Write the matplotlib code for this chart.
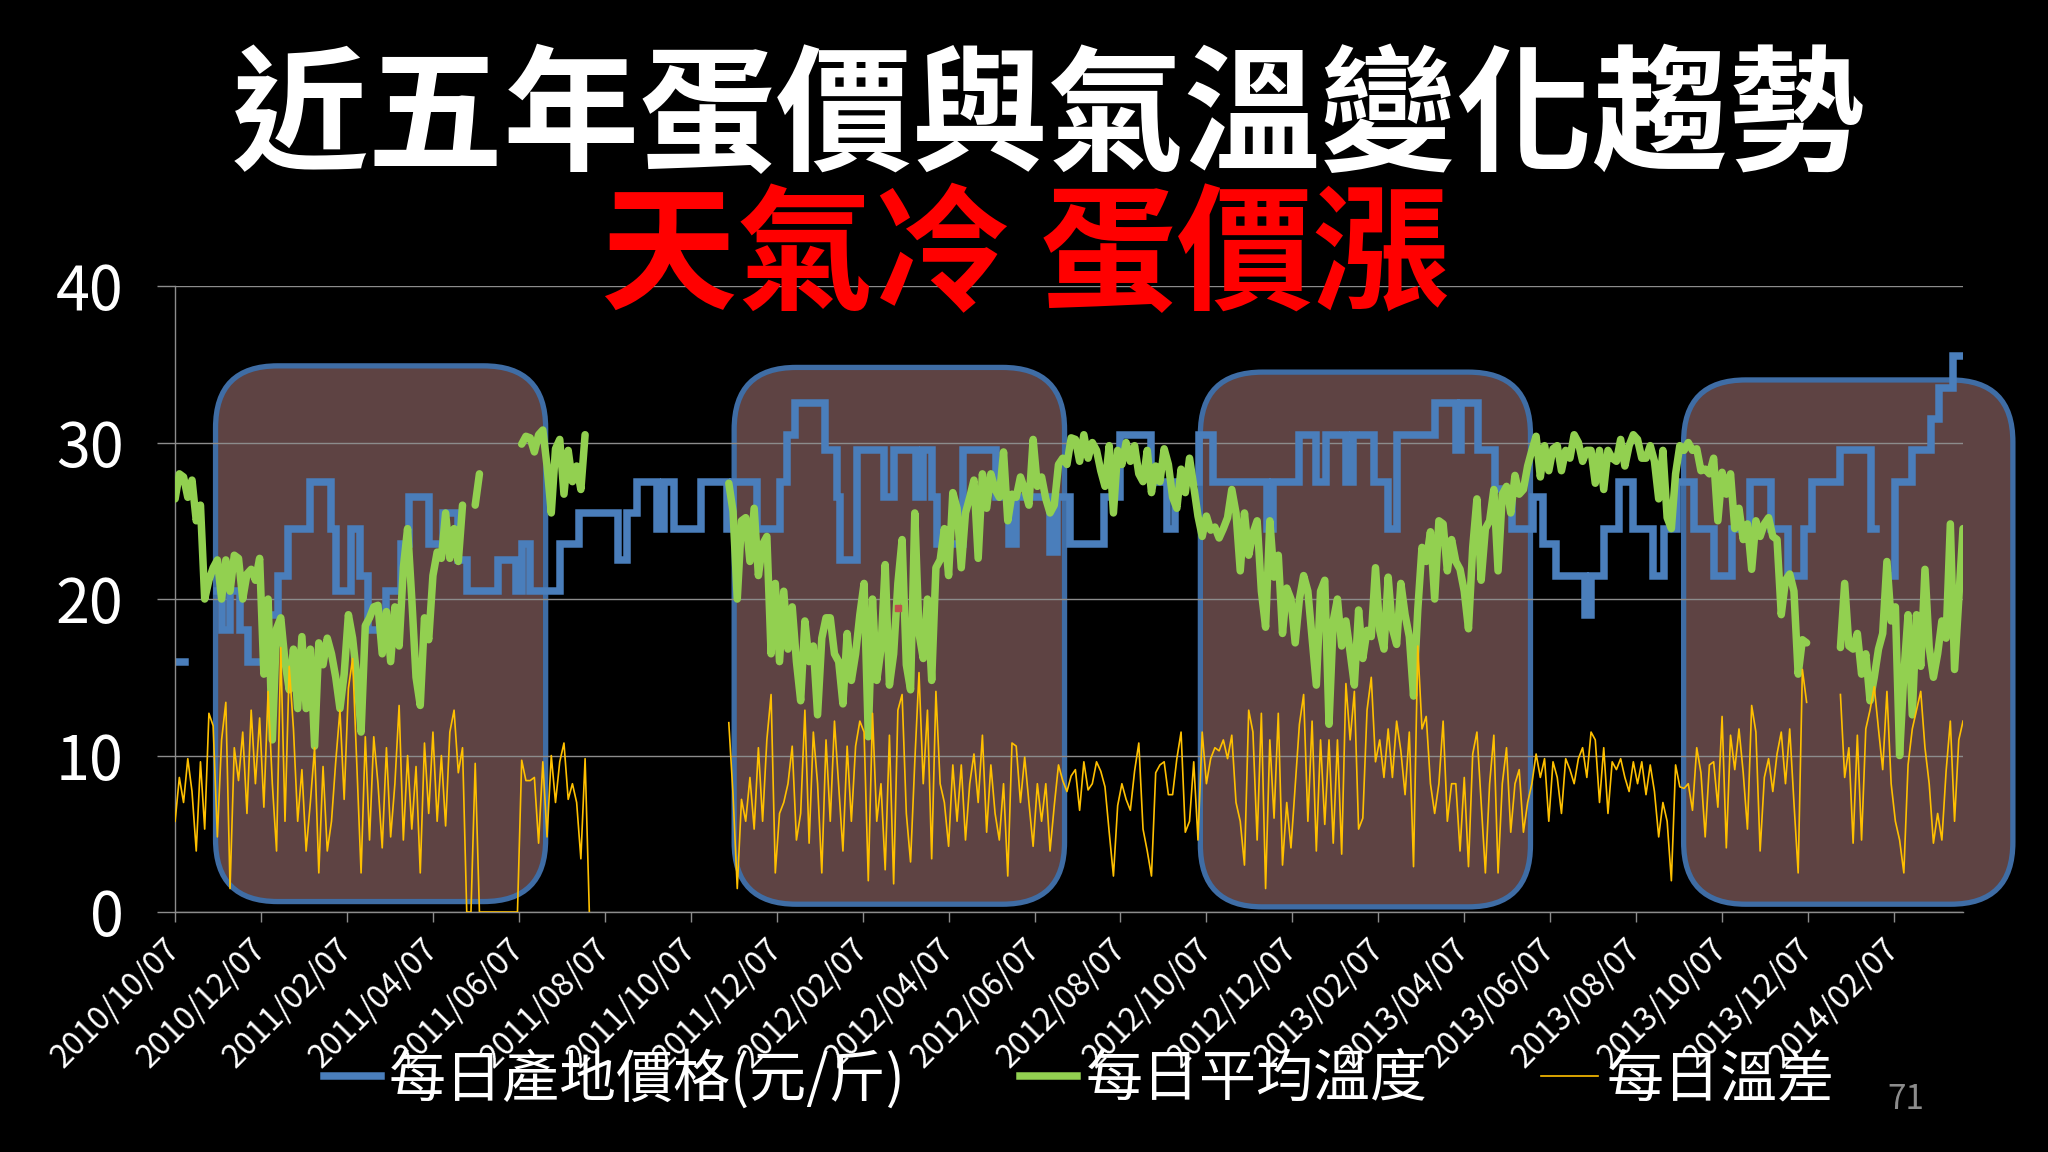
import numpy as np
import matplotlib
matplotlib.use('Agg')
import matplotlib.pyplot as plt
from matplotlib.patches import FancyBboxPatch
from matplotlib.lines import Line2D
from matplotlib.transforms import IdentityTransform

plt.rcParams['font.family'] = ['Noto Sans CJK TC', 'DejaVu Sans']

# ---------------- text ----------------
title = '近五年蛋價與氣溫變化趨勢'
subtitle = '天氣冷 蛋價漲'
series_names = ['每日產地價格(元/斤)', '每日平均溫度', '每日溫差']
page_no = '71'
tick_labels = ['2010/10/07', '2010/12/07', '2011/02/07', '2011/04/07', '2011/06/07',
               '2011/08/07', '2011/10/07', '2011/12/07', '2012/02/07', '2012/04/07',
               '2012/06/07', '2012/08/07', '2012/10/07', '2012/12/07', '2013/02/07',
               '2013/04/07', '2013/06/07', '2013/08/07', '2013/10/07', '2013/12/07',
               '2014/02/07']
tick_every = 61          # category axis: one label every 61 daily points
n_days = 1270            # daily points, day 0 = 2010/10/07
sample_step = 3          # temperature series read every 3rd day

nan = np.nan

# ---------------- price (step series): day of change, new price ----------------
price_day = [0, 7, 30, 33, 39, 46, 52, 65, 73, 80, 96, 111, 114, 125, 131, 137, 150, 160,
             166, 180, 190, 201, 207, 229, 242, 246, 252, 273, 287, 314, 321, 328, 342,
             347, 354, 373, 392, 396, 413, 429, 434, 440, 461, 470, 472, 484, 503, 510,
             526, 531, 537, 541, 559, 583, 592, 597, 621, 626, 635, 659, 671, 693, 704,
             710, 727, 737, 775, 779, 798, 810, 817, 831, 836, 851, 861, 867, 894, 909,
             913, 925, 937, 949, 964, 971, 980, 1001, 1005, 1014, 1025, 1035, 1049, 1057,
             1066, 1078, 1092, 1105, 1118, 1133, 1145, 1156, 1162, 1182, 1204, 1207,
             1219, 1221, 1233, 1246, 1252, 1262, 1269]
price_val = [16, nan, 20.5, 18, 20.5, 18, 16, 19, 21.5, 24.5, 27.5, 24.5, 20.5, 24.5, 21.5,
             18, 20.5, 23.5, 26.5, 23.5, 25.5, 22.5, 20.5, 22.5, 20.5, 23.5, 20.5, 23.5,
             25.5, 22.5, 25.5, 27.5, 24.5, 27.5, 24.5, 27.5, 24.5, 27.5, 24.5, 27.5, 30.5,
             32.5, 29.5, 26.5, 22.5, 29.5, 26.5, 29.5, 26.5, 29.5, 26.5, 23.5, 29.5, 26.5,
             23.5, 26.5, 23.0, 26.5, 23.5, 26.5, 30.5, 27.5, 24.5, 27.5, 30.5, 27.5, 24.5,
             27.5, 30.5, 27.5, 30.5, 27.5, 30.5, 27.5, 24.5, 30.5, 32.5, 29.5, 32.5, 29.5,
             27.0, 24.5, 26.5, 23.5, 21.5, 19.0, 21.5, 24.5, 27.5, 24.5, 21.5, 24.5, 27.5,
             24.5, 21.5, 24.5, 27.5, 24.5, 21.5, 24.5, 27.5, 29.5, 24.5, nan, 21.5, 27.5,
             29.5, 31.5, 33.5, 35.5, 35.5]

# ---------------- mean temperature: segments (first day, values every 3 days) ----------------
temp_seg1_start = 0
temp_seg1 = [26.4, 28.0, 27.8, 26.5, 27.6, 25.0, 26.0, 20.0, 21.2, 22.0,
             22.5, 20.0, 22.5, 20.5, 22.8, 22.6, 20.0, 21.6, 21.9, 21.2,
             22.6, 15.2, 20.0, 11.0, 18.1, 18.8, 16.0, 14.2, 16.8, 13.0,
             17.6, 13.0, 16.8, 10.6, 17.2, 15.8, 17.5, 16.5, 15.0, 13.0,
             15.2, 19.0, 17.5, 15.0, 11.5, 18.3, 18.8, 19.5, 19.6, 16.5,
             19.2, 16.0, 19.5, 17.0, 22.0, 24.5, 20.0, 15.0, 13.2, 18.8,
             17.4, 21.5, 23.0, 22.6, 25.5, 22.6, 24.5, 22.4, 26.0]
temp_seg2_start = 213
temp_seg2 = [26.0, 28.0]
temp_seg3_start = 246
temp_seg3 = [29.9, 30.4, 30.3, 29.4, 30.5, 30.8, 28.5, 25.5, 29.6, 30.2,
             26.7, 29.5, 27.5, 28.5, 27.0, 30.5]
temp_seg4_start = 393
temp_seg4 = [27.4, 25.6, 20.0, 25.0, 25.2, 22.4, 25.8, 21.5, 23.5, 24.0,
             16.5, 21.0, 16.0, 20.5, 16.8, 19.5, 16.0, 13.5, 18.6, 16.0,
             17.0, 12.6, 17.5, 18.8, 18.8, 16.5, 16.0, 13.3, 17.8, 14.8,
             16.5, 19.0, 21.0, 11.2, 20.0, 14.8, 16.8, 22.2, 14.5, 16.5,
             21.0, 23.8, 15.8, 14.2, 25.5, 17.8, 16.2, 20.0, 14.8, 22.0,
             22.5, 24.5, 21.5, 26.8, 25.8, 22.0, 25.5, 26.5, 27.6, 22.6,
             28.0, 25.8, 28.0, 27.0, 26.5, 29.4, 25.0, 26.7, 26.5, 27.8,
             27.0, 26.0, 30.2, 27.2, 27.8, 26.4, 25.5, 26.0, 28.6, 29.0,
             28.6, 30.3, 30.2, 28.8, 30.5, 29.0, 30.0, 29.5, 28.2, 27.2,
             29.8, 25.5, 29.5, 28.6, 30.0, 28.8, 29.8, 28.0, 27.5, 29.5,
             26.8, 28.5, 27.5, 29.6, 28.6, 26.5, 25.8, 28.3, 26.8, 29.0,
             27.2, 25.3, 24.0, 25.3, 24.4, 24.6, 23.9, 24.5, 25.2, 27.0,
             25.5, 21.8, 25.5, 22.8, 24.2, 25.0, 20.5, 18.2, 25.0, 21.4,
             22.8, 17.8, 20.7, 20.0, 17.2, 20.0, 21.5, 20.5, 17.5, 14.5,
             20.5, 21.2, 12.0, 18.6, 20.0, 17.0, 18.6, 16.6, 14.5, 19.3,
             16.2, 18.0, 17.6, 22.0, 18.0, 16.8, 21.4, 18.1, 17.1, 21.0,
             19.0, 17.6, 13.8, 19.3, 23.3, 22.4, 24.3, 20.0, 25.0, 24.8,
             21.8, 23.8, 22.4, 21.9, 20.5, 18.1, 23.3, 26.4, 21.2, 24.5,
             25.0, 27.0, 21.8, 26.7, 27.2, 25.5, 27.9, 26.7, 27.0, 28.5,
             29.5, 30.4, 27.8, 29.8, 28.2, 29.6, 29.8, 28.2, 29.5, 29.0,
             30.5, 30.0, 28.8, 29.5, 29.5, 27.4, 29.5, 27.0, 29.5, 29.0,
             28.8, 30.2, 28.5, 29.8, 30.5, 30.2, 29.0, 29.0, 29.8, 28.8,
             26.4, 29.5, 25.2, 24.5, 28.0, 29.8, 29.5, 30.0, 29.5, 29.6,
             28.2, 28.3, 28.0, 29.0, 25.0, 28.1, 26.7, 28.0, 24.5, 25.8,
             23.8, 24.8, 21.9, 25.0, 24.0, 24.8, 25.2, 24.0, 23.8, 19.0,
             21.2, 21.6, 20.5, 15.2, 17.4, 17.2]
temp_seg5_start = 1182
temp_seg5 = [16.9, 21.0, 17.0, 16.8, 17.8, 15.2, 16.5, 13.5, 15.0, 16.8,
             17.8, 22.4, 18.6, 19.5, 10.0, 15.2, 19.0, 12.6, 19.0, 15.7,
             21.9, 16.9, 15.0, 16.5, 18.6, 17.5, 24.8, 15.5, 20.0, 24.5]

# ---------------- daily temperature range: segments ----------------
diff_seg1_start = 0
diff_seg1 = [5.8, 8.6, 7.0, 9.8, 7.7, 3.9, 9.6, 5.3, 12.7, 11.9,
             4.8, 11.0, 13.4, 1.5, 10.5, 8.4, 11.5, 6.3, 12.9, 8.2,
             12.4, 6.7, 14.1, 8.2, 3.9, 16.9, 5.8, 15.7, 11.7, 5.8,
             9.1, 3.9, 7.0, 10.5, 2.5, 9.3, 3.9, 5.8, 9.6, 12.9,
             7.2, 14.3, 16.2, 9.3, 2.5, 11.2, 4.6, 11.2, 8.2, 4.1,
             10.5, 4.8, 8.2, 13.2, 4.6, 10.0, 5.3, 9.3, 2.5, 10.8,
             6.3, 11.5, 5.8, 10.0, 5.5, 11.5, 12.9, 8.9, 10.5]
diff_seg2_start = 207
diff_seg2 = [0, 0, 9.5, 0, 0, 0, 0, 0, 0, 0,
             0, 0, 0, 9.7, 8.4, 8.4, 8.6, 4.4, 9.6, 4.8,
             10.0, 7.0, 9.6, 10.8, 7.2, 8.2, 7.0, 3.4, 9.8, 0]
diff_seg3_start = 393
diff_seg3 = [12.1, 7.5, 1.5, 7.2, 5.8, 8.6, 5.3, 10.5, 5.8, 11.0,
             13.9, 2.5, 6.3, 7.0, 8.2, 10.6, 4.6, 6.3, 12.9, 4.4,
             11.5, 8.2, 2.5, 11.0, 5.8, 12.2, 8.0, 3.9, 10.6, 5.8,
             10.6, 12.2, 11.5, 2.0, 12.7, 5.8, 8.2, 2.7, 11.3, 1.8,
             12.9, 13.9, 6.3, 3.2, 9.6, 15.3, 8.2, 12.9, 3.4, 14.1,
             8.2, 7.0, 4.2, 9.4, 5.8, 9.4, 4.6, 8.2, 10.1, 7.0,
             11.3, 5.1, 9.4, 6.3, 4.6, 8.2, 2.3, 10.8, 10.6, 7.0,
             9.9, 7.0, 4.2, 8.2, 5.8, 8.2, 3.9, 6.8, 9.4, 8.4,
             7.7, 8.7, 9.1, 6.5, 9.6, 7.8, 8.2, 9.6, 9.0, 8.0,
             5.1, 2.3, 6.8, 8.2, 7.2, 6.5, 9.0, 10.8, 5.3, 3.9,
             2.3, 8.9, 9.4, 9.6, 7.5, 7.5, 9.8, 11.5, 5.1, 5.8,
             9.6, 4.6, 11.5, 8.2, 9.8, 10.5, 10.3, 11.0, 9.8, 11.3,
             7.0, 5.8, 3.0, 12.9, 11.5, 4.6, 12.7, 1.5, 11.0, 6.0,
             12.7, 3.0, 7.0, 4.1, 8.0, 12.0, 13.9, 5.8, 12.2, 3.9,
             11.0, 5.6, 11.0, 4.4, 11.0, 3.7, 14.6, 11.0, 14.1, 5.3,
             6.0, 12.9, 15.0, 9.6, 11.0, 8.6, 11.7, 8.6, 12.2, 10.3,
             7.5, 11.5, 2.9, 17.0, 11.7, 12.5, 8.2, 6.3, 8.2, 12.2,
             5.8, 8.2, 8.2, 3.9, 8.6, 2.9, 10.1, 11.5, 7.0, 2.5,
             8.2, 11.3, 2.5, 8.2, 10.5, 5.1, 8.2, 9.1, 5.1, 7.0,
             8.2, 10.1, 8.6, 9.8, 5.8, 9.6, 8.6, 6.3, 9.8, 9.1,
             8.2, 9.8, 10.5, 8.6, 11.5, 11.0, 7.0, 10.5, 6.3, 9.6,
             9.1, 9.8, 8.6, 7.7, 9.6, 8.2, 9.6, 7.5, 9.4, 7.7,
             4.8, 7.0, 5.8, 2.0, 9.4, 8.0, 7.9, 8.2, 6.5, 10.5,
             8.9, 4.8, 9.4, 9.6, 6.7, 12.5, 4.1, 11.3, 9.1, 11.7,
             8.9, 5.3, 13.2, 11.5, 3.9, 8.6, 9.8, 7.7, 10.1, 11.5,
             8.2, 11.7, 7.0, 2.5, 15.5, 13.4]
diff_seg4_start = 1182
diff_seg4 = [13.9, 8.6, 10.5, 4.4, 11.3, 4.6, 11.7, 12.9, 14.4, 11.7,
             9.1, 14.1, 8.2, 5.8, 4.6, 2.5, 9.4, 11.7, 12.9, 14.1,
             10.5, 8.2, 4.4, 6.3, 4.6, 9.0, 12.2, 5.8, 11.0, 12.2]

# stray single red point visible in the original
stray_day = [513]
stray_val = [19.4]

# highlighted cold periods (rounded boxes): day range and value range
box_days = [(28.7, 263.0), (396.8, 631.3), (727.7, 962.0), (1070.7, 1304.4)]
box_vals = [(0.67, 34.9), (0.5, 34.8), (0.33, 34.5), (0.5, 34.0)]


def assemble(segments):
    x = np.arange(0, n_days, sample_step)
    y = np.full(x.shape, np.nan)
    for start, vals in segments:
        i0 = start // sample_step
        y[i0:i0 + len(vals)] = vals
    return x, y


temp_x, temp_y = assemble([(temp_seg1_start, temp_seg1), (temp_seg2_start, temp_seg2),
                           (temp_seg3_start, temp_seg3), (temp_seg4_start, temp_seg4),
                           (temp_seg5_start, temp_seg5)])
diff_x, diff_y = assemble([(diff_seg1_start, diff_seg1), (diff_seg2_start, diff_seg2),
                           (diff_seg3_start, diff_seg3), (diff_seg4_start, diff_seg4)])

# ---------------- colours ----------------
BLUE = '#4A7EBB'
GREEN = '#92D050'
ORANGE = '#FFC000'
GRID = '#8C8C8C'
BOX_FACE = '#5E4343'
BOX_EDGE = '#3F6DA5'
LW_THICK = 5.4

fig = plt.figure(figsize=(20.48, 11.52), dpi=100, facecolor='black')
ax = fig.add_axes([0.0855, 0.2083, 0.873, 0.5434])
ax.set_facecolor('black')
ax.set_xlim(0, n_days - 1)
ax.set_ylim(0, 40)
ax.set_autoscale_on(False)

# rounded boxes, drawn in pixel space so the corners stay circular
for (x0, x1), (y0, y1) in zip(box_days, box_vals):
    px0, py0 = ax.transData.transform((x0, y0))
    px1, py1 = ax.transData.transform((x1, y1))
    patch = FancyBboxPatch((px0, py0), px1 - px0, py1 - py0,
                           boxstyle='round,pad=0,rounding_size=62',
                           transform=IdentityTransform(), facecolor=BOX_FACE,
                           edgecolor=BOX_EDGE, linewidth=3.8, zorder=0.3, clip_on=False)
    ax.add_patch(patch)

ax.set_axisbelow(True)
ax.yaxis.grid(True, color=GRID, linewidth=1.0)
ax.set_yticks([0, 10, 20, 30, 40])

l1, = ax.step(price_day, price_val, where='post', color=BLUE, linewidth=LW_THICK,
              solid_joinstyle='miter', zorder=2)
l2, = ax.plot(temp_x, temp_y, color=GREEN, linewidth=LW_THICK, solid_joinstyle='round',
              solid_capstyle='round', zorder=3)
l3, = ax.plot(diff_x, diff_y, color=ORANGE, linewidth=1.2, zorder=4)
ax.plot(stray_day, stray_val, linestyle='none', marker='s', markersize=5,
        color='#C0504D', zorder=5)

ax.set_xticks(np.arange(len(tick_labels)) * tick_every)
ax.set_xticklabels(tick_labels, rotation=45, ha='right', va='center',
                   rotation_mode='anchor')

for s in ['top', 'right']:
    ax.spines[s].set_visible(False)
for s in ['left', 'bottom']:
    ax.spines[s].set_color(GRID)
    ax.spines[s].set_linewidth(1.0)

ax.tick_params(axis='x', direction='out', length=7, width=1.0, color=GRID,
               labelcolor='white', labelsize=23, pad=16)
ax.tick_params(axis='y', direction='out', length=13, width=1.0, color=GRID,
               labelcolor='white', labelsize=44, pad=24)

fig.text(0.512, 0.896, title, color='white', fontsize=98, fontweight='bold',
         ha='center', va='center')
fig.text(0.5005, 0.775, subtitle, color='#FF0000', fontsize=98, fontweight='bold',
         ha='center', va='center')

handles = [Line2D([], [], color=BLUE, linewidth=LW_THICK),
           Line2D([], [], color=GREEN, linewidth=LW_THICK),
           Line2D([], [], color=ORANGE, linewidth=1.2)]
leg = fig.legend(handles, series_names, loc='center left',
                 bbox_to_anchor=(0.158, 0.063), bbox_transform=fig.transFigure,
                 ncol=3, frameon=False, fontsize=41, handlelength=1.0,
                 handletextpad=0.15, columnspacing=2.0, labelcolor='white',
                 borderpad=0, borderaxespad=0)

fig.text(0.9307, 0.046, page_no, color='#8C8C8C', fontsize=24, ha='center',
         va='center')

fig.savefig('out.png', dpi=100, facecolor='black')
